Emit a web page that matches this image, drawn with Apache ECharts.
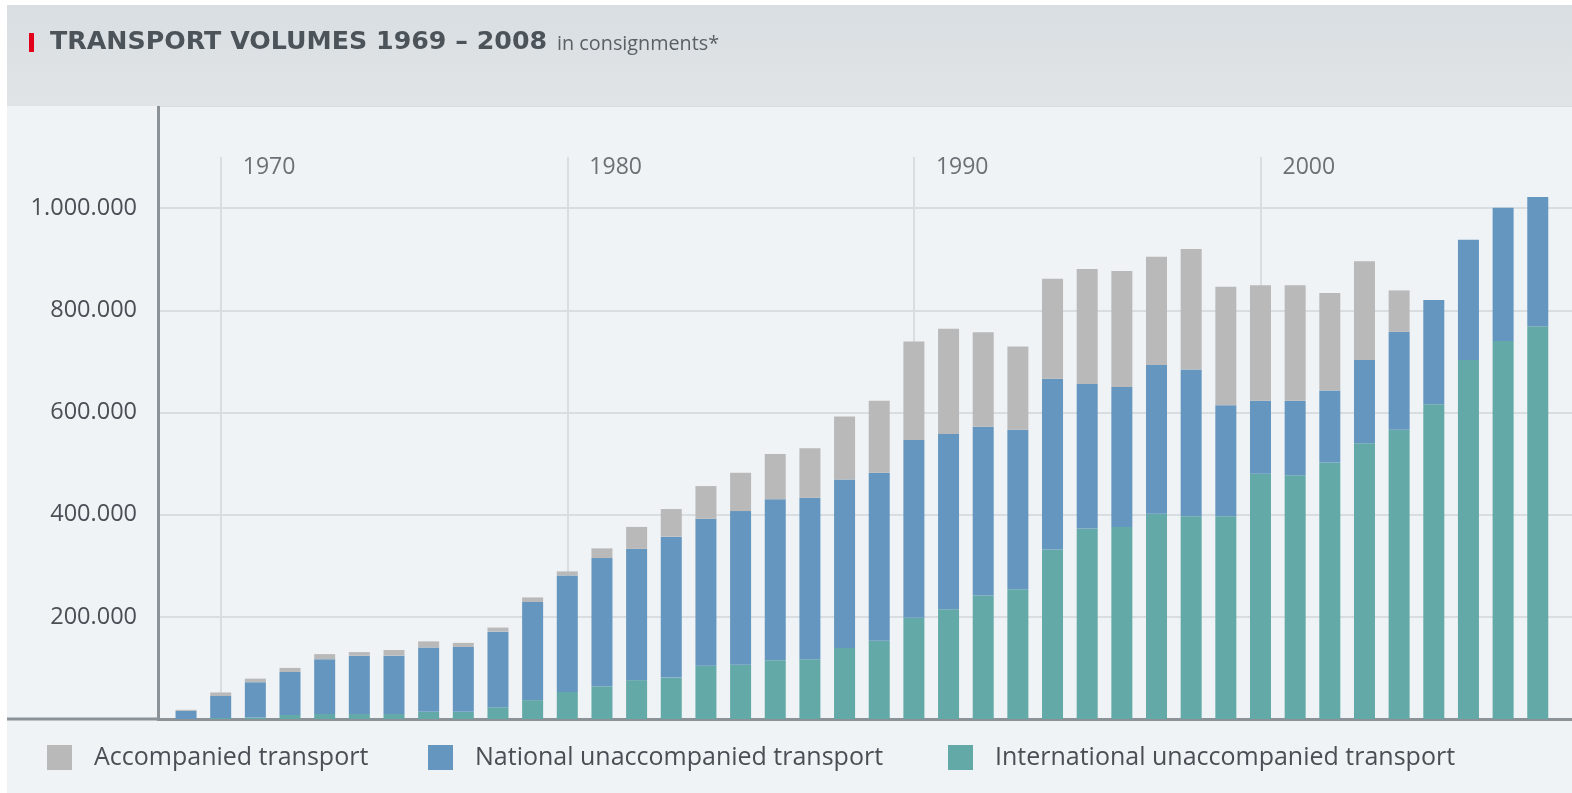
<!DOCTYPE html>
<html>
<head>
<meta charset="utf-8">
<script src="https://cdn.jsdelivr.net/npm/echarts@6/dist/echarts.min.js"></script>
<style>
html,body{margin:0;padding:0;background:#ffffff;}
#chart{width:1572px;height:793px;}
</style>
</head>
<body>
<div id="chart"></div>
<script>
const years = [1969,1970,1971,1972,1973,1974,1975,1976,1977,1978,1979,1980,1981,1982,1983,1984,1985,1986,1987,1988,1989,1990,1991,1992,1993,1994,1995,1996,1997,1998,1999,2000,2001,2002,2003,2004,2005,2006,2007,2008];
const international = [0,2000,3000,8000,10000,10000,10000,14000,14000,23000,37000,53000,64000,76000,81000,104000,106000,115000,117000,139000,153000,198000,215000,242000,254000,332000,373000,376000,402000,397000,397000,480000,477000,502000,540000,566000,616000,703000,740000,769000];
const national = [16000,43000,69000,84000,107000,114000,114000,126000,127000,148000,192000,228000,251000,257000,276000,288000,301000,315000,316000,330000,329000,348000,343000,330000,312000,334000,283000,274000,291000,287000,217000,143000,146000,141000,163000,192000,204000,235000,261000,253000];
const accompanied = [2000,7000,7000,8000,10000,7000,11000,12000,8000,8000,9000,8000,19000,43000,54000,64000,75000,89000,97000,123000,141000,193000,206000,185000,163000,196000,225000,227000,212000,236000,232000,226000,226000,191000,193000,81000,0,0,0,0];
const decadeTicks = [1970,1980,1990,2000];
const yTicks = [200000,400000,600000,800000,1000000];
const seriesNames = ['Accompanied transport','National unaccompanied transport','International unaccompanied transport'];
const titleMain = 'TRANSPORT VOLUMES 1969 – 2008';
const titleSub = 'in consignments*';

const colors = {acc:'#b9b9b9', nat:'#6496bf', int:'#63a9a7'};
const LABEL_FONT = 'Open Sans';
const textColor = '#4a4f55';

function fmt(v){ return String(v).replace(/\B(?=(\d{3})+(?!\d))/g,'.'); }

const chart = echarts.init(document.getElementById('chart'), null, {renderer:'canvas'});

const option = {
  animation:false,
  backgroundColor:'#ffffff',
  graphic:[
    {type:'rect', z:-5, shape:{x:7,y:106,width:1565,height:687}, style:{fill:'#eff3f6'}},
    {type:'rect', z:100, shape:{x:7,y:5,width:1565,height:101},
      style:{fill:new echarts.graphic.LinearGradient(0,0,0,1,[{offset:0,color:'#d9dee2'},{offset:1,color:'#e0e4e7'}])}},
    {type:'rect', z:101, shape:{x:29,y:33,width:5,height:19}, style:{fill:'#e2001a'}},
    {type:'line', z:50, shape:{x1:7,y1:719,x2:158,y2:719}, style:{stroke:'#8b9298',lineWidth:3}}
  ],
  title:{
    text:'{a|'+titleMain+'}{b|'+titleSub+'}',
    left:50, top:27, padding:0, z:102,
    textStyle:{
      rich:{
        a:{fontFamily:'DejaVu Sans', fontWeight:'bold', fontSize:25.3, color:'#4c5359', lineHeight:30},
        b:{fontFamily:LABEL_FONT, fontWeight:'normal', fontSize:19.8, color:'#5a6066', padding:[4,0,0,10], lineHeight:30}
      }
    }
  },
  legend:[0,1,2].map((k)=>({
    data:[seriesNames[k]],
    left:[47,428,948][k], top:745, padding:0,
    itemWidth:25, itemHeight:25, icon:'rect', selectedMode:false,
    textStyle:{fontFamily:LABEL_FONT, fontSize:25, color:textColor, padding:[0,0,0,17]}
  })),
  grid:[
    {left:158, right:0, top:106, bottom:74},
    {left:168.7, right:16.9, top:106, bottom:74}
  ],
  xAxis:[
    {
      type:'value', gridIndex:0, min:1968.19, max:2008.99,
      axisLine:{show:true, onZero:false, lineStyle:{color:'#8b9298', width:3}},
      axisTick:{show:false}, axisLabel:{show:false}, splitLine:{show:false}
    },
    {
      type:'category', gridIndex:1, data:years, boundaryGap:true,
      axisLine:{show:false}, axisTick:{show:false}, axisLabel:{show:false}, splitLine:{show:false}
    }
  ],
  yAxis:[
    {
      type:'value', gridIndex:0, min:0, max:1200000, interval:200000,
      axisLine:{show:true, lineStyle:{color:'#8b9298', width:3}},
      axisTick:{show:false},
      axisLabel:{margin:21, fontFamily:LABEL_FONT, fontSize:23.5, color:textColor,
        showMinLabel:false, showMaxLabel:false,
        formatter:v=> yTicks.indexOf(v)>=0 ? fmt(v) : ''},
      splitLine:{lineStyle:{color:'#d8dde1', width:2}}
    },
    {
      type:'value', gridIndex:1, min:0, max:1200000, interval:200000,
      axisLine:{show:false}, axisTick:{show:false}, axisLabel:{show:false}, splitLine:{show:false}
    }
  ],
  series:[
    {
      type:'scatter', xAxisIndex:0, yAxisIndex:0, z:1, silent:true,
      data:decadeTicks.map(y=>[y,1080000]),
      symbolSize:0.1, itemStyle:{color:'transparent'},
      label:{show:true, position:'right', distance:22, fontFamily:LABEL_FONT, fontSize:23, color:textColor,
        formatter:p=>String(p.value[0])},
      markLine:{
        z:1, silent:true, symbol:['none','none'], label:{show:false},
        lineStyle:{color:'#d8dde1', width:2, type:'solid'},
        emphasis:{disabled:true},
        data:decadeTicks.map(y=>[{coord:[y,1100000]},{coord:[y,0]}])
      }
    },
    {name:seriesNames[2], type:'bar', xAxisIndex:1, yAxisIndex:1, stack:'t', z:6, barWidth:21, data:international, itemStyle:{color:colors.int}},
    {name:seriesNames[1], type:'bar', xAxisIndex:1, yAxisIndex:1, stack:'t', z:6, barWidth:21, data:national, itemStyle:{color:colors.nat}},
    {name:seriesNames[0], type:'bar', xAxisIndex:1, yAxisIndex:1, stack:'t', z:6, barWidth:21, data:accompanied, itemStyle:{color:colors.acc}}
  ]
};
chart.setOption(option);
</script>
</body>
</html>
